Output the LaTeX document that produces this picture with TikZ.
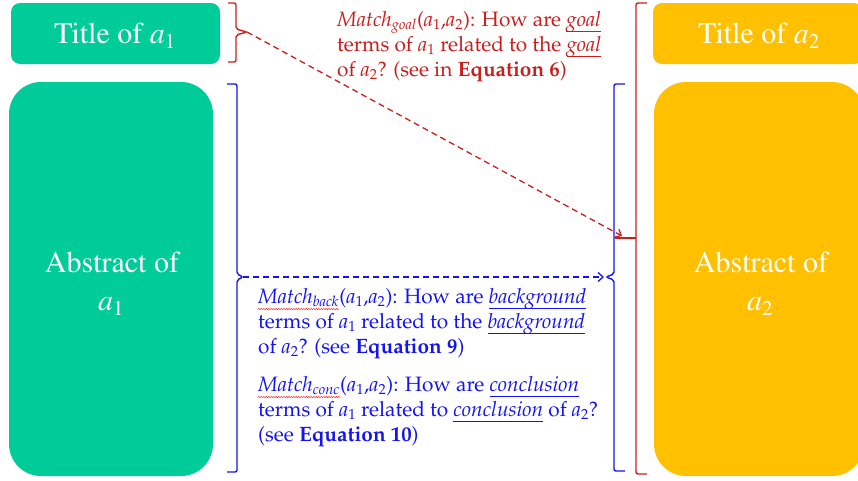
\documentclass[tikz,border=0pt]{standalone}
\usepackage[T1,TU]{fontenc}
\usetikzlibrary{arrows.meta,decorations.pathmorphing}
\definecolor{grn}{RGB}{0,204,153}
\definecolor{org}{RGB}{255,192,0}
\definecolor{rd}{RGB}{200,30,30}
\definecolor{bl}{RGB}{20,20,240}
\newcommand\palf{\fontencoding{T1}\fontfamily{ppl}\fontsize{20.8}{25}\selectfont}
\newcommand\timf{\fontencoding{T1}\fontfamily{ptm}\fontsize{30}{38}\selectfont}
\newcommand\ai[1]{\textit{a}\textsubscript{#1}}
\newcommand\mt[1]{\textit{Match}\textsubscript{\itshape #1}}
\newcommand\ulw[1]{\setbox0=\hbox{\textit{#1}}\rlap{\rule[-6pt]{\wd0}{0.9pt}}\box0\relax}
\tikzset{
  boxg/.style={fill=grn, draw=none, inner sep=0},
  boxo/.style={fill=org, draw=none, inner sep=0},
  boxtxt/.style={text=white, font=\timf, anchor=base, inner sep=0},
  redt/.style={text=rd, font=\palf, anchor=base west, inner sep=0},
  bluet/.style={text=bl, font=\palf, anchor=base west, inner sep=0},
  rbrace/.style={draw=rd, line width=1.4pt, rounded corners=2pt},
  bbrace/.style={draw=bl, line width=1.4pt, rounded corners=2pt},
  rconn/.style={draw=rd, line width=1.3pt, dash pattern=on 6pt off 4pt, -{Straight Barb[length=5pt,width=9pt]}},
  bconn/.style={draw=bl, line width=1.3pt, dash pattern=on 6pt off 4pt, -{Straight Barb[length=5pt,width=9pt]}},
  wavy/.style={draw=red!80, line width=0.5pt, decorate, decoration={snake, amplitude=0.7pt, segment length=2.5pt}}
}
\begin{document}
\begin{tikzpicture}[x=1pt,y=-1pt]
\useasboundingbox (0,0) rectangle (858,480);
% boxes
\node[boxg, rounded corners=9pt, minimum width=209pt, minimum height=61pt] (t1) at (115.5,33.5) {};
\node[boxg, rounded corners=32pt, minimum width=204pt, minimum height=394pt] (ab1) at (111,279) {};
\node[boxo, rounded corners=9pt, minimum width=210pt, minimum height=61pt] (t2) at (758,33.5) {};
\node[boxo, rounded corners=32pt, minimum width=210pt, minimum height=394pt] (ab2) at (759,279) {};
% box texts
\node[boxtxt] (t1txt) at (115,43) {Title of \ai{1}};
\node[boxtxt] (t2txt) at (759,43) {Title of \ai{2}};
\node[boxtxt] (ab1a) at (112,272) {Abstract of};
\node[boxtxt] (ab1b) at (111,310) {\ai{1}};
\node[boxtxt] (ab2a) at (761,272) {Abstract of};
\node[boxtxt] (ab2b) at (760,310) {\ai{2}};
% braces
\coordinate (rl) at (247,32);
\coordinate (bl) at (243,277);
\coordinate (br) at (606,277);
\coordinate (rr) at (622,236);
\draw[rbrace] (228,3) -- (236,3) -- (236,29) -- (rl) -- (236,35) -- (236,62) -- (228,62);
\draw[bbrace] (227,84) -- (237,84) -- (237,274) -- (bl) -- (237,280) -- (237,472) -- (227,472);
\draw[bbrace] (625,84) -- (614,84) -- (614,274) -- (br) -- (614,280) -- (614,471) -- (625,471);
\draw[rbrace] (647,3) -- (636,3) -- (636,474) -- (647,474);
\draw[draw=rd, line width=1.4pt] (636,238) -- (615,238);
% connectors
\draw[rconn] (rl) -- (rr);
\draw[bconn] (bl) -- ([xshift=-2pt]br);
% red text
\node[redt] (r1a) at (337,26) {\mt{goal}};
\node[redt] (r1b) at (r1a.base east) {(\ai{1},\ai{2}): How are \ulw{goal}};
\node[redt] (r2) at (337,51) {terms of \ai{1} related to the \ulw{goal}};
\node[redt] (r3) at (337,76) {of \ai{2}? (see in \textbf{Equation 6})};
% blue text
\node[bluet] (b1a) at (258,303) {\mt{back}};
\node[bluet] (b1b) at (b1a.base east) {(\ai{1},\ai{2}): How are \ulw{background}};
\node[bluet] (b2) at (258,328) {terms of \ai{1} related to the \ulw{background}};
\node[bluet] (b3) at (258,353) {of \ai{2}? (see \textbf{Equation 9})};
\node[bluet] (b4a) at (258,391) {\mt{conc}};
\node[bluet] (b4b) at (b4a.base east) {(\ai{1},\ai{2}): How are \ulw{conclusion}};
\node[bluet] (b5) at (258,416) {terms of \ai{1} related to \ulw{conclusion} of \ai{2}?};
\node[bluet] (b6) at (258,441) {(see \textbf{Equation 10})};
% spell-check squiggles
\draw[wavy] ([yshift=-6pt]b1a.base west) -- ([yshift=-6pt]b1a.base east);
\draw[wavy] ([yshift=-6pt]b4a.base west) -- ([yshift=-6pt]b4a.base east);
\end{tikzpicture}
\end{document}
